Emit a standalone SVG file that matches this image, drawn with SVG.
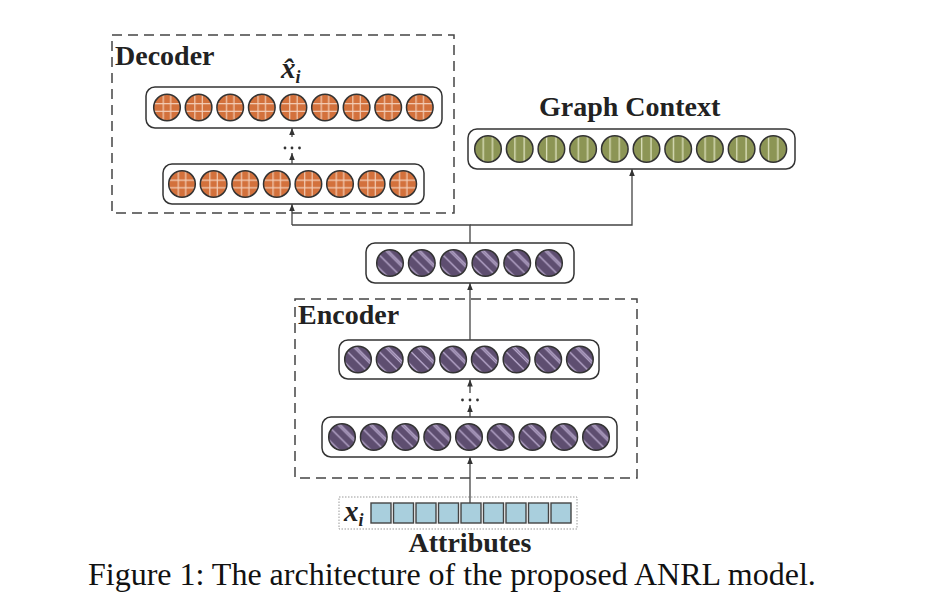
<svg xmlns="http://www.w3.org/2000/svg" width="928" height="610" viewBox="0 0 928 610">
<defs>
<pattern id="pOr" patternUnits="objectBoundingBox" patternContentUnits="objectBoundingBox" width="1" height="1">
<rect x="0" y="0" width="1" height="1" fill="#D3713C"/>
<path d="M0.36 0V1M0.64 0V1M0 0.36H1M0 0.64H1" stroke="#F3CDB6" stroke-width="0.045"/>
</pattern>
<pattern id="pPu" patternUnits="objectBoundingBox" patternContentUnits="objectBoundingBox" width="1" height="1">
<rect x="0" y="0" width="1" height="1" fill="#5E4E70"/>
<path d="M0 0.1L0.9 1M0.1 -0.2L1.2 0.9M-0.2 0.4L0.6 1.2M0.3 -0.1L1.1 0.7" stroke="#B8A8CC" stroke-width="0.05"/>
</pattern>
<pattern id="pGr" patternUnits="objectBoundingBox" patternContentUnits="objectBoundingBox" width="1" height="1">
<rect x="0" y="0" width="1" height="1" fill="#8C9555"/>
<path d="M0.32 0V1M0.67 0V1" stroke="#DCE0BC" stroke-width="0.05"/>
</pattern>
<marker id="ah" viewBox="0 0 10 10" refX="10" refY="5" markerWidth="7" markerHeight="7" markerUnits="userSpaceOnUse" orient="auto">
<path d="M0 1L10 5L0 9Z" fill="#333"/>
</marker>
<style>
.layer{fill:#fff;stroke:#333;stroke-width:1.5}
.dash{fill:none;stroke:#444;stroke-width:1.5;stroke-dasharray:10 6}
.or{fill:url(#pOr);stroke:#333;stroke-width:1.5}
.pu{fill:url(#pPu);stroke:#333;stroke-width:1.5}
.gr{fill:url(#pGr);stroke:#333;stroke-width:1.5}
.sq{fill:#A9CFDD;stroke:#444;stroke-width:1.4}
.ln{fill:none;stroke:#444;stroke-width:1.3}
.arr{fill:none;stroke:#444;stroke-width:1.3;marker-end:url(#ah)}
.dot{fill:#333}
.lbl{font-family:"Liberation Serif",serif;font-weight:bold;font-size:28px;fill:#222}
.math{font-family:"Liberation Serif",serif;font-style:italic;font-weight:bold;font-size:29px;fill:#222}
.cap{font-family:"Liberation Serif",serif;font-size:32px;fill:#111}
</style>
</defs>
<rect width="928" height="610" fill="#fff"/>

<g id="decoder">
<rect class="dash" x="112" y="35" width="342" height="178"/>
<text class="lbl" x="115" y="65">Decoder</text>
</g>
<g id="decoder-output">
<text class="math" x="281" y="78">x̂<tspan font-size="18" dy="5">i</tspan></text>
<rect class="layer" x="146" y="87" width="296" height="41" rx="9"/>
<circle class="or" cx="167" cy="107.5" r="13.3"/>
<circle class="or" cx="198.6" cy="107.5" r="13.3"/>
<circle class="or" cx="230.2" cy="107.5" r="13.3"/>
<circle class="or" cx="261.8" cy="107.5" r="13.3"/>
<circle class="or" cx="293.4" cy="107.5" r="13.3"/>
<circle class="or" cx="325" cy="107.5" r="13.3"/>
<circle class="or" cx="356.6" cy="107.5" r="13.3"/>
<circle class="or" cx="388.2" cy="107.5" r="13.3"/>
<circle class="or" cx="419.8" cy="107.5" r="13.3"/>
</g>
<g id="decoder-hidden">
<rect class="layer" x="163" y="164" width="261" height="40" rx="9"/>
<circle class="or" cx="182" cy="184" r="13.3"/>
<circle class="or" cx="213.6" cy="184" r="13.3"/>
<circle class="or" cx="245.2" cy="184" r="13.3"/>
<circle class="or" cx="276.8" cy="184" r="13.3"/>
<circle class="or" cx="308.4" cy="184" r="13.3"/>
<circle class="or" cx="340" cy="184" r="13.3"/>
<circle class="or" cx="371.6" cy="184" r="13.3"/>
<circle class="or" cx="403.2" cy="184" r="13.3"/>
</g>

<g id="graph-context">
<text class="lbl" x="539" y="116">Graph Context</text>
<rect class="layer" x="468" y="129" width="327" height="40" rx="9"/>
<circle class="gr" cx="488" cy="149" r="13.3"/>
<circle class="gr" cx="519.7" cy="149" r="13.3"/>
<circle class="gr" cx="551.4" cy="149" r="13.3"/>
<circle class="gr" cx="583.1" cy="149" r="13.3"/>
<circle class="gr" cx="614.8" cy="149" r="13.3"/>
<circle class="gr" cx="646.5" cy="149" r="13.3"/>
<circle class="gr" cx="678.2" cy="149" r="13.3"/>
<circle class="gr" cx="709.9" cy="149" r="13.3"/>
<circle class="gr" cx="741.6" cy="149" r="13.3"/>
<circle class="gr" cx="773.3" cy="149" r="13.3"/>
</g>

<g id="embedding">
<rect class="layer" x="366" y="243" width="208" height="40" rx="9"/>
<circle class="pu" cx="390" cy="263" r="13.3"/>
<circle class="pu" cx="421.8" cy="263" r="13.3"/>
<circle class="pu" cx="453.6" cy="263" r="13.3"/>
<circle class="pu" cx="485.4" cy="263" r="13.3"/>
<circle class="pu" cx="517.2" cy="263" r="13.3"/>
<circle class="pu" cx="549" cy="263" r="13.3"/>
</g>

<g id="encoder">
<rect class="dash" x="295" y="299" width="342" height="179"/>
<text class="lbl" x="298" y="324">Encoder</text>
</g>
<g id="encoder-top">
<rect class="layer" x="339" y="340" width="260" height="39" rx="9"/>
<circle class="pu" cx="358" cy="359.5" r="13.3"/>
<circle class="pu" cx="389.7" cy="359.5" r="13.3"/>
<circle class="pu" cx="421.4" cy="359.5" r="13.3"/>
<circle class="pu" cx="453.1" cy="359.5" r="13.3"/>
<circle class="pu" cx="484.8" cy="359.5" r="13.3"/>
<circle class="pu" cx="516.5" cy="359.5" r="13.3"/>
<circle class="pu" cx="548.2" cy="359.5" r="13.3"/>
<circle class="pu" cx="579.9" cy="359.5" r="13.3"/>
</g>
<g id="encoder-bottom">
<rect class="layer" x="322" y="417" width="295" height="40" rx="9"/>
<circle class="pu" cx="342" cy="437" r="13.3"/>
<circle class="pu" cx="373.75" cy="437" r="13.3"/>
<circle class="pu" cx="405.5" cy="437" r="13.3"/>
<circle class="pu" cx="437.25" cy="437" r="13.3"/>
<circle class="pu" cx="469" cy="437" r="13.3"/>
<circle class="pu" cx="500.75" cy="437" r="13.3"/>
<circle class="pu" cx="532.5" cy="437" r="13.3"/>
<circle class="pu" cx="564.25" cy="437" r="13.3"/>
<circle class="pu" cx="596" cy="437" r="13.3"/>
</g>

<g id="attributes">
<rect x="339" y="497" width="238" height="32" fill="none" stroke="#999" stroke-width="1" stroke-dasharray="1.5 1.5"/>
<text class="math" x="344" y="521">x<tspan font-size="18" dy="5">i</tspan></text>
<rect class="sq" x="371" y="503" width="20" height="20"/>
<rect class="sq" x="393.5" y="503" width="20" height="20"/>
<rect class="sq" x="416" y="503" width="20" height="20"/>
<rect class="sq" x="438.5" y="503" width="20" height="20"/>
<rect class="sq" x="461" y="503" width="20" height="20"/>
<rect class="sq" x="483.5" y="503" width="20" height="20"/>
<rect class="sq" x="506" y="503" width="20" height="20"/>
<rect class="sq" x="528.5" y="503" width="20" height="20"/>
<rect class="sq" x="551" y="503" width="20" height="20"/>
<text class="lbl" x="470" y="552" text-anchor="middle" font-size="27">Attributes</text>
</g>

<g id="connectors">
<line class="arr" x1="470" y1="503" x2="470" y2="457"/>
<line class="arr" x1="470" y1="417" x2="470" y2="405"/>
<circle class="dot" cx="462.5" cy="400" r="1.4"/>
<circle class="dot" cx="470" cy="400" r="1.4"/>
<circle class="dot" cx="477.5" cy="400" r="1.4"/>
<line class="arr" x1="470" y1="393" x2="470" y2="379.5"/>
<line class="arr" x1="470" y1="340" x2="470" y2="283"/>
<polyline class="ln" points="470,243 470,225 292,225"/>
<line class="arr" x1="292" y1="225" x2="292" y2="204"/>
<polyline class="arr" points="470,225 632,225 632,169"/>
<line class="arr" x1="292" y1="164" x2="292" y2="153"/>
<circle class="dot" cx="285" cy="148" r="1.4"/>
<circle class="dot" cx="292" cy="148" r="1.4"/>
<circle class="dot" cx="299.5" cy="148" r="1.4"/>
<line class="arr" x1="292" y1="137" x2="292" y2="128"/>
</g>

<text class="cap" x="88" y="585">Figure 1: The architecture of the proposed ANRL model.</text>
</svg>
